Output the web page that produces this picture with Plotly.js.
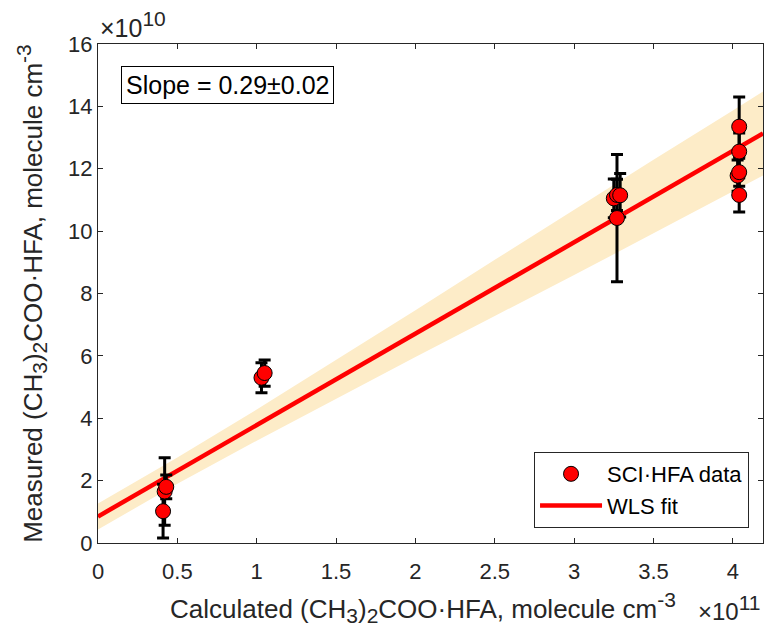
<!DOCTYPE html>
<html>
<head>
<meta charset="utf-8">
<script src="https://cdn.plot.ly/plotly-3.0.1.min.js"></script>
<style>html,body{margin:0;padding:0;background:#fff;}#chart{width:764px;height:635px;}</style>
</head>
<body>
<div id="chart"></div>
<script>
// Data: x in units of 1e11, y in units of 1e10 molecule cm^-3
const xData   = [0.41, 0.42, 0.43, 1.03, 1.05, 3.25, 3.27, 3.29, 3.27, 4.04, 4.04, 4.03, 4.04, 4.04];
const yData   = [1.02, 1.65, 1.80, 5.30, 5.45, 11.05, 11.16, 11.15, 10.42, 13.35, 12.55, 11.78, 11.89, 11.16];
const errData = [0.86, 1.08, 0.38, 0.48, 0.42, 0.62, 0.50, 0.70, 2.04, 0.95, 0.60, 0.50, 0.45, 0.55];

const fitX = [0, 4.19];
const fitY = [0.85, 13.13];

const bandX     = [0, 0.5, 1, 1.5, 2, 2.5, 3, 3.5, 4, 4.19];
const bandUpper = [1.27, 2.74, 4.28, 5.87, 7.46, 9.08, 10.69, 12.29, 13.87, 14.48];
const bandLower = [0.43, 1.90, 3.28, 4.63, 5.96, 7.28, 8.59, 9.93, 11.27, 11.78];

const xTicks = [0, 0.5, 1, 1.5, 2, 2.5, 3, 3.5, 4];
const xTickLabels = ['0', '0.5', '1', '1.5', '2', '2.5', '3', '3.5', '4'];
const yTicks = [0, 2, 4, 6, 8, 10, 12, 14, 16];
const yTickLabels = ['0', '2', '4', '6', '8', '10', '12', '14', '16'];

const axisColor = '#262626';
const font = 'Liberation Sans, Arial, sans-serif';
const s = (t) => '<span style="font-size:21px">' + t + '</span>';
const titleCore = '(CH<sub>' + s('3') + '</sub>)<sub>' + s('2') + '</sub>COO·HFA, molecule cm<sup>' + s('-3') + '</sup>';

const traces = [
  {x: bandX, y: bandLower, mode: 'lines', line: {width: 0, color: 'rgba(0,0,0,0)'}, showlegend: false, hoverinfo: 'skip'},
  {x: bandX, y: bandUpper, mode: 'lines', line: {width: 0, color: 'rgba(0,0,0,0)'}, fill: 'tonexty', fillcolor: '#fdecc8', showlegend: false, hoverinfo: 'skip'},
  {x: fitX, y: fitY, mode: 'lines', name: 'WLS fit', line: {color: '#ff0000', width: 4.5}},
  {x: xData, y: yData, mode: 'markers', name: 'SCI·HFA data',
   marker: {color: '#ff0000', size: 15, line: {color: '#000000', width: 1}},
   error_y: {type: 'data', array: errData, visible: true, color: '#000000', thickness: 3, width: 6}}
];

const layout = {
  width: 764, height: 635,
  margin: {l: 98, r: 1, t: 44, b: 92},
  paper_bgcolor: '#ffffff', plot_bgcolor: '#ffffff',
  font: {family: font, color: axisColor, size: 22},
  showlegend: true,
  legend: {x: 0.979, y: 0.03, xanchor: 'right', yanchor: 'bottom', bgcolor: '#ffffff',
           bordercolor: axisColor, borderwidth: 1, font: {size: 22, color: '#000000'},
           traceorder: 'reversed', tracegroupgap: 0, itemwidth: 62},
  xaxis: {range: [0, 4.19], tickvals: xTicks, ticktext: xTickLabels, ticks: 'inside', ticklen: 5,
          tickcolor: axisColor, showline: true, linecolor: axisColor, linewidth: 1, mirror: 'ticks',
          showgrid: false, zeroline: false, tickfont: {size: 22, color: axisColor}, ticklabelstandoff: 9},
  yaxis: {range: [0, 16], tickvals: yTicks, ticktext: yTickLabels, ticks: 'inside', ticklen: 5,
          tickcolor: axisColor, showline: true, linecolor: axisColor, linewidth: 1, mirror: 'ticks',
          showgrid: false, zeroline: false, tickfont: {size: 22, color: axisColor},
          title: {text: 'Measured ' + titleCore, font: {size: 26, color: axisColor}, standoff: 18}},
  annotations: [
    {xref: 'paper', yref: 'paper', x: 0.105, y: -0.13, xanchor: 'left', yanchor: 'middle', showarrow: false,
     text: 'Calculated ' + titleCore, font: {size: 26, color: axisColor}},
    {xref: 'paper', yref: 'paper', x: 1.0, y: -0.13, xanchor: 'right', yanchor: 'middle', showarrow: false,
     text: '×10<sup>' + s('11') + '</sup>', font: {size: 24, color: axisColor}},
    {xref: 'paper', yref: 'paper', x: 0.0, y: 1.0, xanchor: 'left', yanchor: 'bottom', showarrow: false,
     text: '×10<sup>' + s('10') + '</sup>', font: {size: 25, color: axisColor}},
    {xref: 'paper', yref: 'paper', x: 0.0346, y: 0.956, xanchor: 'left', yanchor: 'top', showarrow: false,
     text: 'Slope = 0.29±0.02', font: {size: 25, color: '#000000'}, bordercolor: '#000000', borderwidth: 1, borderpad: 4, bgcolor: '#ffffff'}
  ]
};

Plotly.newPlot('chart', traces, layout, {displayModeBar: false, staticPlot: true});
</script>
</body>
</html>
